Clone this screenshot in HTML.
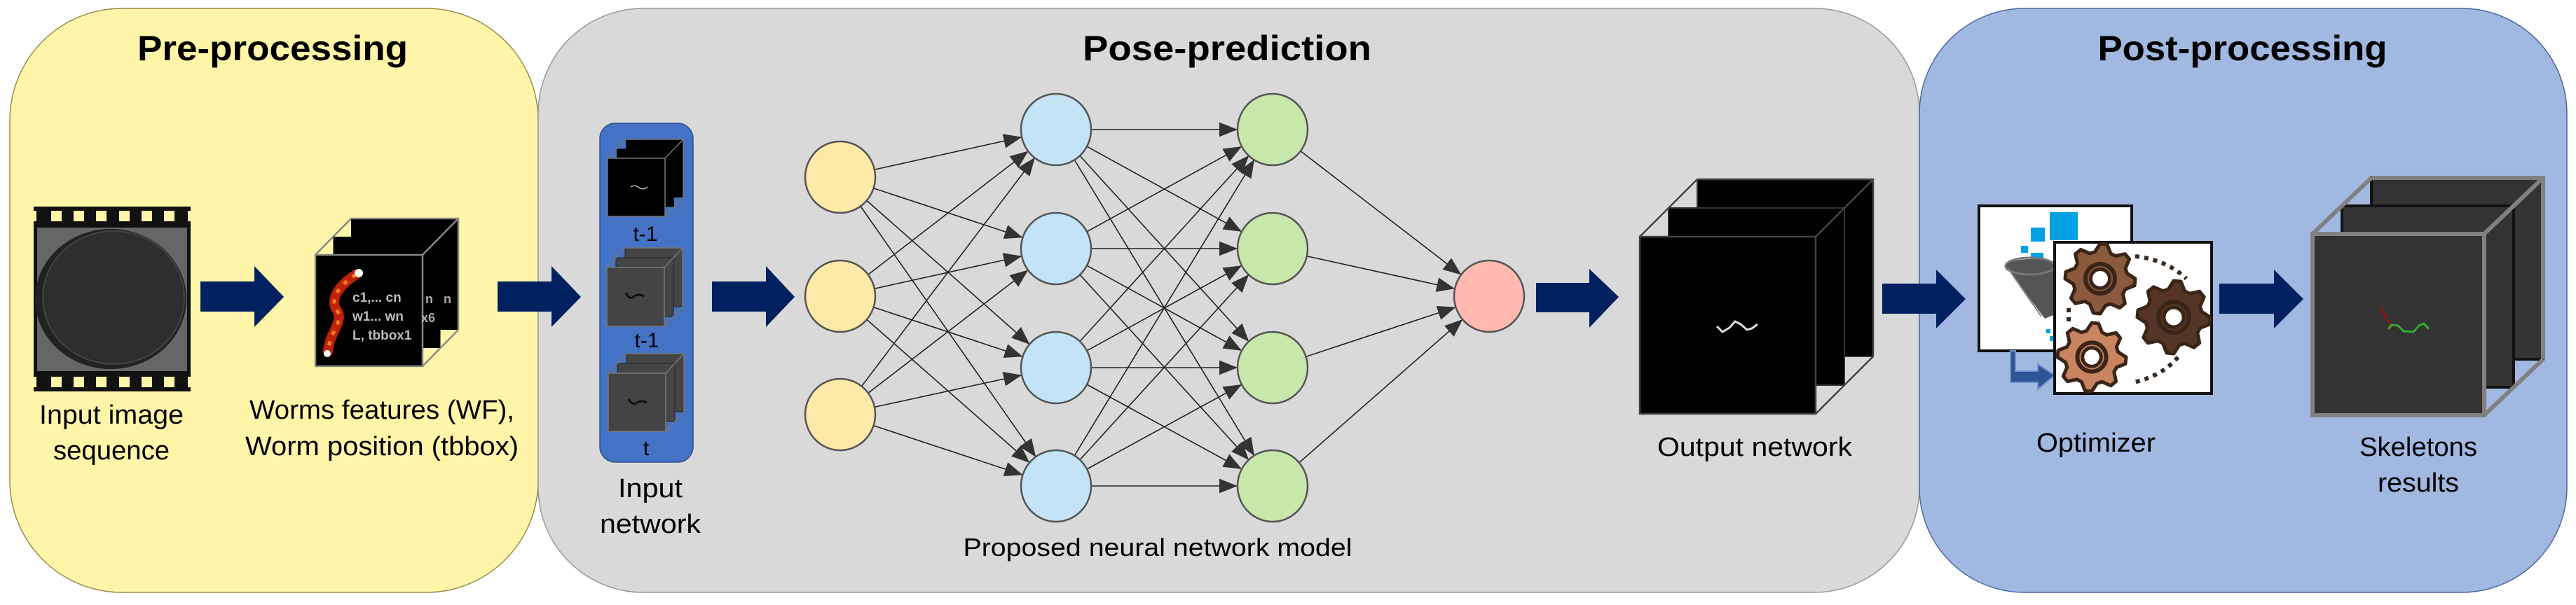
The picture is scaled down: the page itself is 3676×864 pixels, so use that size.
<!DOCTYPE html>
<html><head><meta charset="utf-8"><style>
html,body{margin:0;padding:0;background:#fff;}
svg{display:block;}
text{font-family:"Liberation Sans",sans-serif;}
</style></head><body>
<svg id="s" width="3676" height="864" viewBox="0 0 3676 864" xmlns="http://www.w3.org/2000/svg">
<defs>
<marker id="ah" viewBox="0 0 10 10" refX="10" refY="5" markerWidth="10" markerHeight="10" markerUnits="userSpaceOnUse" orient="auto"><path d="M0,0 L10,5 L0,10 z" fill="#333"/></marker>
<marker id="ah2" viewBox="0 0 10 10" refX="10" refY="5" markerWidth="26" markerHeight="26" markerUnits="userSpaceOnUse" orient="auto"><path d="M0,1 L10,5 L0,9 z" fill="#333"/></marker>
</defs>
<!-- panels -->
<rect x="14" y="12" width="754" height="834" rx="160" ry="160" fill="#fff5a9" stroke="#9a8a4a" stroke-width="1.5"/>
<rect x="768" y="12" width="1971" height="834" rx="150" ry="150" fill="#d9d9d9" stroke="#999" stroke-width="1.5"/>
<rect x="2739" y="12" width="924" height="834" rx="150" ry="150" fill="#a1b8e1" stroke="#4a6aa0" stroke-width="1.5"/>

<text x="389" y="86" font-size="50" font-weight="bold" text-anchor="middle" textLength="386" lengthAdjust="spacingAndGlyphs">Pre-processing</text>
<text x="1751" y="86" font-size="50" font-weight="bold" text-anchor="middle" textLength="412" lengthAdjust="spacingAndGlyphs">Pose-prediction</text>
<text x="3200" y="86" font-size="50" font-weight="bold" text-anchor="middle" textLength="413" lengthAdjust="spacingAndGlyphs">Post-processing</text>

<!-- film strip -->
<rect x="48" y="295" width="224" height="264" fill="#111"/>
<rect x="53" y="325" width="214" height="205" fill="#666"/>
<g fill="#fff5a9">
<rect x="73" y="301" width="15" height="15"/><rect x="105" y="301" width="15" height="15"/><rect x="137" y="301" width="15" height="15"/><rect x="170" y="301" width="15" height="15"/><rect x="202" y="301" width="15" height="15"/><rect x="234" y="301" width="15" height="15"/>
<rect x="73" y="538" width="15" height="15"/><rect x="105" y="538" width="15" height="15"/><rect x="137" y="538" width="15" height="15"/><rect x="170" y="538" width="15" height="15"/><rect x="202" y="538" width="15" height="15"/><rect x="234" y="538" width="15" height="15"/>
<rect x="48" y="301" width="4" height="15"/><rect x="268" y="301" width="4" height="15"/>
<rect x="48" y="538" width="4" height="15"/><rect x="268" y="538" width="4" height="15"/>
</g>
<ellipse cx="158" cy="427" rx="108" ry="100" fill="#222"/>
<ellipse cx="162" cy="425" rx="101" ry="95" fill="#2e2e2e" stroke="#444" stroke-width="2"/>
<text x="159" y="605" font-size="38" text-anchor="middle" textLength="206" lengthAdjust="spacingAndGlyphs">Input image</text>
<text x="159" y="656" font-size="38" text-anchor="middle" textLength="166" lengthAdjust="spacingAndGlyphs">sequence</text>

<!-- block arrows -->
<g fill="#002060">
<path d="M286,402 H363 V380 L405,424 L363,467 V445 H286 Z"/>
<path d="M710,402 H787 V380 L829,424 L787,467 V445 H710 Z"/>
<path d="M1016,402 H1093 V380 L1134,424 L1093,467 V445 H1016 Z"/>
<path d="M2192,404 H2268 V384 L2310,424 L2268,468 V446 H2192 Z"/>
<path d="M2686,405 H2763 V385 L2805,427 L2763,469 V448 H2686 Z"/>
<path d="M3167,405 H3245 V385 L3287,427 L3245,469 V448 H3167 Z"/>
</g>

<g id="stacks"></g>

<!-- features text -->
<text x="468" y="402" font-size="0"> </text>
<g font-size="18" fill="#aaa" font-weight="bold">
<text x="607" y="433">n</text><text x="633" y="433">n</text><text x="601" y="460">x6</text>
</g>
<g font-size="19" fill="#bbb" font-weight="bold">
<text x="503" y="431">c1,... cn</text>
<text x="503" y="458">w1... wn</text>
<text x="503" y="485">L, tbbox1</text>
</g>
<path d="M508,392 C480,410 470,430 482,445 C490,460 470,475 468,502" stroke="#c1200c" stroke-width="14" fill="none" stroke-linecap="round"/>
<path d="M508,392 C480,410 470,430 482,445 C490,460 470,475 468,502" stroke="#f08020" stroke-width="5" fill="none" stroke-dasharray="6 10"/>
<circle cx="512" cy="390" r="6" fill="#fff"/>
<circle cx="467" cy="505" r="5" fill="#fff"/>
<text x="545" y="598" font-size="38" text-anchor="middle" textLength="378" lengthAdjust="spacingAndGlyphs">Worms features (WF),</text>
<text x="545" y="650" font-size="38" text-anchor="middle" textLength="390" lengthAdjust="spacingAndGlyphs">Worm position (tbbox)</text>

<!-- input network -->
<rect x="856" y="176" width="133" height="484" rx="22" fill="#4472c4" stroke="#2f528f" stroke-width="1.5"/>
<g id="instacks"></g>
<text x="921" y="344" font-size="30" text-anchor="middle">t-1</text>
<text x="923" y="496" font-size="30" text-anchor="middle">t-1</text>
<text x="922" y="650" font-size="30" text-anchor="middle">t</text>
<text x="928" y="710" font-size="38" text-anchor="middle" textLength="92" lengthAdjust="spacingAndGlyphs">Input</text>
<text x="928" y="761" font-size="38" text-anchor="middle" textLength="144" lengthAdjust="spacingAndGlyphs">network</text>

<g id="nn"></g>
<text x="1652" y="794" font-size="36" text-anchor="middle" textLength="555" lengthAdjust="spacingAndGlyphs">Proposed neural network model</text>

<text x="2504" y="651" font-size="38" text-anchor="middle" textLength="278" lengthAdjust="spacingAndGlyphs">Output network</text>

<!-- optimizer -->
<rect x="2824" y="294" width="218" height="207" fill="#fff" stroke="#111" stroke-width="4"/>
<g fill="#00a0e3">
<rect x="2925" y="303" width="40" height="40"/><rect x="2898" y="325" width="20" height="20"/>
<rect x="2884" y="351" width="10" height="10"/><rect x="2898" y="361" width="18" height="18"/><rect x="2917" y="382" width="10" height="10"/>
<rect x="2920" y="470" width="6" height="6"/><rect x="2925" y="480" width="7" height="7"/>
</g>
<path d="M2862,380 C2862,368 2930,365 2932,380 L2930,450 L2918,455 Z" fill="#555"/>
<ellipse cx="2897" cy="380" rx="35" ry="12" fill="none" stroke="#777" stroke-width="3"/>
<path d="M2866,384 L2913,452" stroke="#888" stroke-width="2"/>
<path d="M2876,501 V530 H2908 V520 L2932,536 L2908,556 V546 H2869 V501 Z" fill="#2f5597" stroke="#7092d0" stroke-width="2"/>
<rect x="2932" y="346" width="224" height="216" fill="#fff" stroke="#111" stroke-width="4"/>
<path d="M3047,366 A110,80 0 0 1 3120,398" fill="none" stroke="#3a2a20" stroke-width="6" stroke-dasharray="6 7"/>
<path d="M3108,510 A110,80 0 0 1 3045,546" fill="none" stroke="#3a2a20" stroke-width="6" stroke-dasharray="6 7"/>
<path d="M2952,440 V460" stroke="#3a2a20" stroke-width="6" stroke-dasharray="6 7"/>
<g id="gears"></g>
<text x="2991" y="645" font-size="38" text-anchor="middle" textLength="170" lengthAdjust="spacingAndGlyphs">Optimizer</text>

<text x="3451" y="651" font-size="38" text-anchor="middle" textLength="168" lengthAdjust="spacingAndGlyphs">Skeletons</text>
<text x="3451" y="702" font-size="38" text-anchor="middle" textLength="116" lengthAdjust="spacingAndGlyphs">results</text>
</svg>
<script>
var NS="http://www.w3.org/2000/svg";
function el(p,t,a){var e=document.createElementNS(NS,t);for(var k in a)e.setAttribute(k,a[k]);p.appendChild(e);return e;}
function stack(p,x,y,w,h,dx,dy,fill,stroke,sw,edge,edgew,inner){
  // layers back to front
  for(var i=2;i>=0;i--){
    el(p,"rect",{x:x+dx*i,y:y+dy*i,width:w,height:h,fill:fill,stroke:stroke,"stroke-width":sw});
  }
  var X=x+2*dx,Y=y+2*dy;
  el(p,"path",{d:"M"+x+","+y+" L"+X+","+Y+" M"+(x+w)+","+y+" L"+(X+w)+","+Y+" M"+(x+w)+","+(y+h)+" L"+(X+w)+","+(Y+h)+" M"+X+","+Y+" H"+(X+w)+" V"+(Y+h),fill:"none",stroke:edge,"stroke-width":edgew});
  el(p,"rect",{x:x,y:y,width:w,height:h,fill:fill,stroke:edge,"stroke-width":edgew});
  if(inner)inner(p,x,y,w,h);
}
var S=document.getElementById("stacks");
stack(S,450,364,153,159,25.5,-26,"#000","#000",0,"#888",2.5,null);
stack(S,2340,338,251,253,41,-41,"#000","#333",2,"#444",2.5,function(p,x,y,w,h){
 el(p,"path",{d:"M2450,466 L2458,474 L2468,468 L2476,459 L2484,463 L2493,471 L2500,469 L2508,463",fill:"none",stroke:"#ddd","stroke-width":3});});
stack(S,3300,334,245,259,42,-40,"#333","#111",4,"#808080",6,function(p){
 el(p,"path",{d:"M3398,440 L3410,462 L3413,469",fill:"none",stroke:"#c00","stroke-width":3,"stroke-dasharray":"3 2"});
 el(p,"path",{d:"M3408,470 L3413,464 L3422,465 L3430,473 L3444,474 L3452,465 L3459,462 L3466,470",fill:"none",stroke:"#3a3","stroke-width":3});
});
var I=document.getElementById("instacks");
stack(I,867,226,82,83,13,-13.5,"#000","#000",0,"#777",1.5,function(p){el(p,"path",{d:"M900,267 q6,-4 12,1 q6,4 12,-1",fill:"none",stroke:"#bbb","stroke-width":1.5});});
stack(I,866,382,82,84,13,-14,"#444","#222",1,"#777",1.5,function(p){el(p,"path",{d:"M893,418 q6,12 12,5 q6,-4 14,0",fill:"none",stroke:"#111","stroke-width":3});});
stack(I,868,533,82,83,13,-14,"#444","#222",1,"#777",1.5,function(p){el(p,"path",{d:"M897,570 q6,10 12,5 q6,-4 14,0",fill:"none",stroke:"#111","stroke-width":3});});

var N=document.getElementById("nn");
var L=[{x:1199,ys:[253,423,592],c:"#ffe9a8"},{x:1507,ys:[185,355,525,694],c:"#c3e4f6"},{x:1816,ys:[185,355,525,694],c:"#c8e7ab"},{x:2125,ys:[423],c:"#ffb9b0"}];
var R=50;
for(var l=0;l<3;l++){var A=L[l],B=L[l+1];
 A.ys.forEach(function(ya){B.ys.forEach(function(yb){
  var dx=B.x-A.x,dy=yb-ya,d=Math.sqrt(dx*dx+dy*dy);
  var x1=A.x+dx/d*R,y1=ya+dy/d*R,x2=B.x-dx/d*R,y2=yb-dy/d*R;
  el(N,"line",{x1:x1,y1:y1,x2:x2,y2:y2,stroke:"#222","stroke-width":1.6,"marker-end":"url(#ah2)"});
 });});}
L.forEach(function(A){A.ys.forEach(function(y){el(N,"ellipse",{cx:A.x,cy:y,rx:50,ry:51,fill:A.c,stroke:"#555","stroke-width":2.5});});});

var G=document.getElementById("gears");
function gear(cx,cy,r,c){
 var g=el(G,"g",{});
 var n=8,pts="";
 for(var i=0;i<n*4;i++){var a=(i/(n*4))*Math.PI*2;var rr=(i%4<2)?r:r*0.78;pts+=(cx+rr*Math.cos(a))+","+(cy+rr*Math.sin(a))+" ";}
 el(g,"polygon",{points:pts,fill:c,stroke:"#3a2518","stroke-width":5,"stroke-linejoin":"round"});
 el(g,"circle",{cx:cx,cy:cy,r:r*0.42,fill:"none",stroke:"#3a2518","stroke-width":6});
 el(g,"circle",{cx:cx,cy:cy,r:r*0.27,fill:"#fff",stroke:"#3a2518","stroke-width":5});
}
gear(2997,398,50,"#8b5a3c");
gear(3102,453,52,"#553626");
gear(2985,510,49,"#c98460");
</script>
</body></html>
